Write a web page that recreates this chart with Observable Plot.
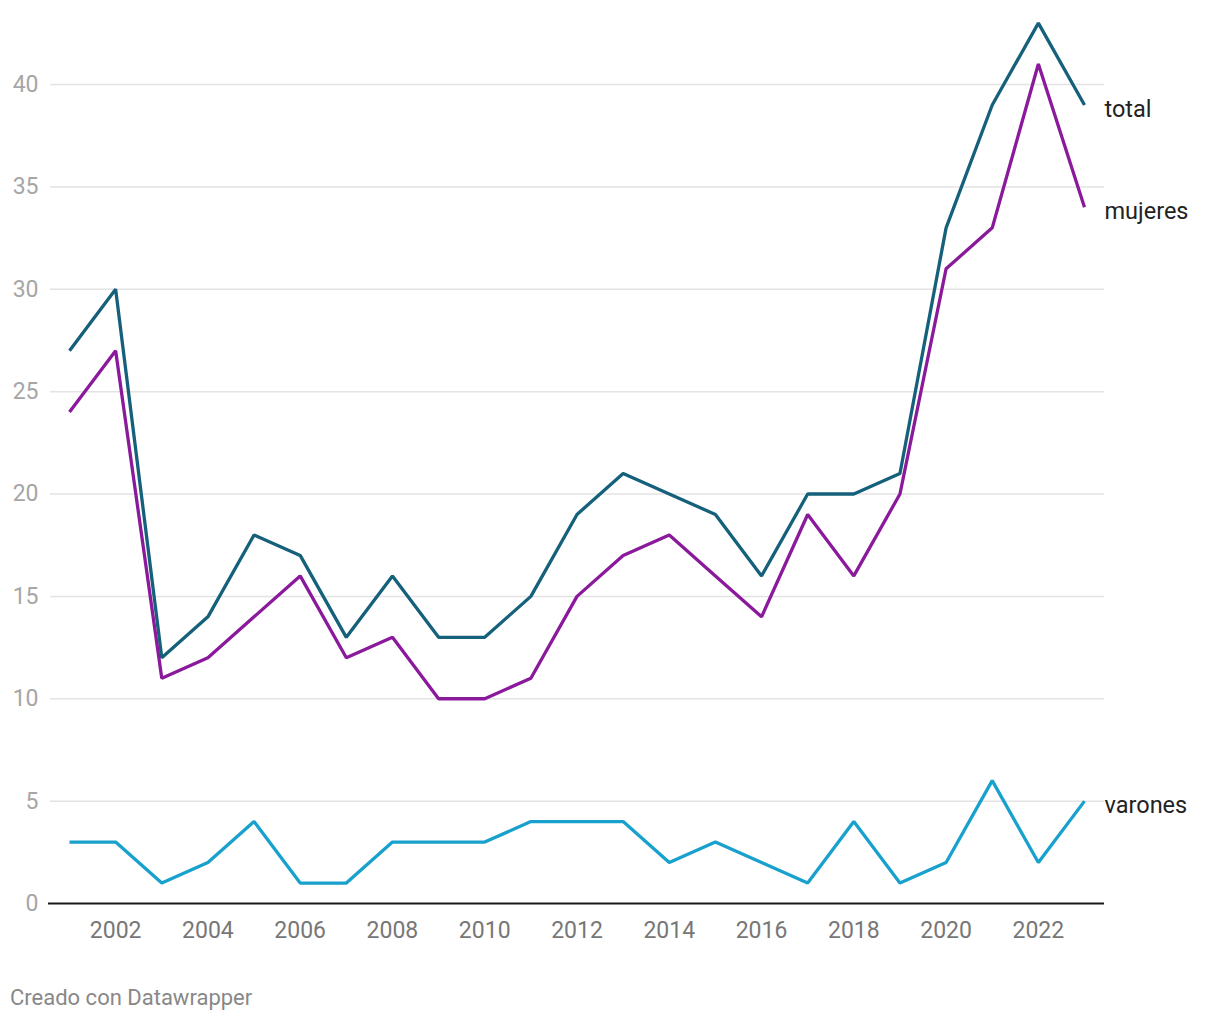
<!DOCTYPE html>
<html>
<head>
<meta charset="utf-8">
<script src="https://cdn.jsdelivr.net/npm/d3@7"></script>
<script src="https://cdn.jsdelivr.net/npm/@observablehq/plot@0.6"></script>
<style>
  html, body { margin: 0; padding: 0; background: #fff; }
  body { width: 1220px; height: 1020px; overflow: hidden; font-family: Roboto, "Noto Sans", sans-serif; }
  #caption { font-family: Roboto, sans-serif; font-size: 22px; color: #888; padding: 25px 0 0 10px; line-height: 26px; }
</style>
</head>
<body>
<div id="chart"></div>
<div id="caption">Creado con Datawrapper</div>
<script>
const years = [2001,2002,2003,2004,2005,2006,2007,2008,2009,2010,2011,2012,2013,2014,2015,2016,2017,2018,2019,2020,2021,2022,2023];
const total   = [27,30,12,14,18,17,13,16,13,13,15,19,21,20,19,16,20,20,21,33,39,43,39];
const mujeres = [24,27,11,12,14,16,12,13,10,10,11,15,17,18,16,14,19,16,20,31,33,41,34];
const varones = [3,3,1,2,4,1,1,3,3,3,4,4,4,2,3,2,1,4,1,2,6,2,5];
const seriesNames = ["total","mujeres","varones"];
const seriesColors = ["#15607a","#8a1a9b","#18a1cd"];
const yTicks = [0,5,10,15,20,25,30,35,40];
const xTicks = [2002,2004,2006,2008,2010,2012,2014,2016,2018,2020,2022];

const seriesValues = {total, mujeres, varones};
const data = [];
for (const s of seriesNames) years.forEach((yr, i) => data.push({year: yr, value: seriesValues[s][i], series: s}));
const last = seriesNames.map(s => ({series: s, year: years[years.length-1], value: seriesValues[s][years.length-1]}));
const colorOf = Object.fromEntries(seriesNames.map((s,i)=>[s, seriesColors[i]]));

const chart = Plot.plot({
  width: 1220,
  height: 960,
  marginLeft: 50,
  marginRight: 116,
  marginTop: 20,
  marginBottom: 57,
  style: {fontFamily: "Roboto, sans-serif", background: "#fff"},
  x: {domain: [2001, 2023], range: [69, 1084], label: null, ticks: xTicks, tickFormat: d => String(d)},
  y: {domain: [0, 40], range: [903, 84], label: null, ticks: yTicks},
  marks: [
    Plot.ruleY(yTicks.filter(d => d > 0), {stroke: "#e3e3e3", strokeWidth: 1.5}),
    Plot.axisY({ticks: yTicks, tickSize: 0, tickPadding: 12, fontSize: 23, fill: "#a6a6a6", label: null}),
    Plot.axisX({ticks: xTicks, tickSize: 0, tickPadding: 18, fontSize: 23, fill: "#777", label: null, tickFormat: d => String(d)}),
    Plot.line(data, {x: "year", y: "value", z: "series", stroke: d => colorOf[d.series], strokeWidth: 3.3, strokeLinejoin: "miter", strokeLinecap: "butt"}),
    Plot.ruleY([0], {stroke: "#1a1a1a", strokeWidth: 2, x1: 2001, x2: 2023, insetLeft: -21, insetRight: -20}),
    Plot.text(last, {x: "year", y: "value", text: "series", dx: 20, dy: 4, textAnchor: "start", fontSize: 23.5, fill: "#222"})
  ]
});
document.getElementById("chart").appendChild(chart);
</script>
</body>
</html>
